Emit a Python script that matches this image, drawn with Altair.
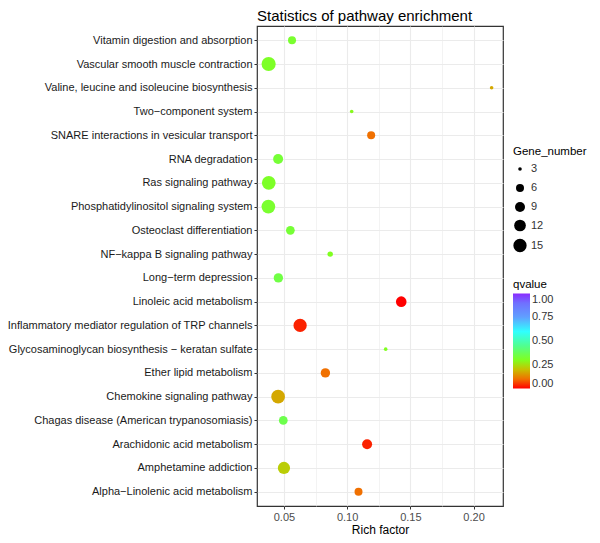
import altair as alt
import pandas as pd

pathways = [
    "Vitamin digestion and absorption",
    "Vascular smooth muscle contraction",
    "Valine, leucine and isoleucine biosynthesis",
    "Two\u2212component system",
    "SNARE interactions in vesicular transport",
    "RNA degradation",
    "Ras signaling pathway",
    "Phosphatidylinositol signaling system",
    "Osteoclast differentiation",
    "NF\u2212kappa B signaling pathway",
    "Long\u2212term depression",
    "Linoleic acid metabolism",
    "Inflammatory mediator regulation of TRP channels",
    "Glycosaminoglycan biosynthesis \u2212 keratan sulfate",
    "Ether lipid metabolism",
    "Chemokine signaling pathway",
    "Chagas disease (American trypanosomiasis)",
    "Arachidonic acid metabolism",
    "Amphetamine addiction",
    "Alpha\u2212Linolenic acid metabolism",
]
rich_factor = [0.0564, 0.0379, 0.2143, 0.1036, 0.1190, 0.0454, 0.0380, 0.0377,
               0.0551, 0.0866, 0.0456, 0.1428, 0.0628, 0.1305, 0.0828, 0.0454,
               0.0495, 0.1158, 0.0500, 0.1090]
gene_number = [6, 17, 3, 3, 6, 9, 16, 16, 7, 4, 8, 10, 15, 3, 8, 16, 7, 9, 13, 6]
qvalue = [0.32, 0.31, 0.17, 0.29, 0.10, 0.33, 0.31, 0.32, 0.33, 0.30, 0.35, 0.0,
          0.03, 0.30, 0.10, 0.17, 0.36, 0.03, 0.22, 0.10]

size_legend_values = [3, 6, 9, 12, 15]
q_legend_values = [0, 0.25, 0.5, 0.75, 1.0]
x_tick_values = [0.05, 0.075, 0.10, 0.125, 0.15, 0.175, 0.20]

df = pd.DataFrame({
    "Pathway": pathways,
    "Rich factor": rich_factor,
    "Gene_number": gene_number,
    "qvalue": qvalue,
})

FONT = "Liberation Sans"
MINOR = "round(datum.value*1000) % 50 != 0"

chart = (
    alt.Chart(df)
    .mark_circle(opacity=1)
    .encode(
        x=alt.X(
            "Rich factor:Q",
            scale=alt.Scale(domain=[0.0287, 0.2233], nice=False, zero=False),
            axis=alt.Axis(
                values=x_tick_values,
                labelExpr="round(datum.value*1000) % 50 == 0 ? format(datum.value, '.2f') : ''",
                tickOpacity={"condition": {"test": MINOR, "value": 0}, "value": 1},
                gridWidth={"condition": {"test": MINOR, "value": 0.6}, "value": 1.1},
                title="Rich factor",
                titleFontSize=12,
                titleFontWeight="normal",
                titleColor="black",
                titlePadding=2,
                labelFontSize=11,
                labelColor="#4d4d4d",
                labelPadding=2,
                tickSize=3,
                tickColor="#333333",
                domain=False,
                gridColor="#EBEBEB",
            ),
        ),
        y=alt.Y(
            "Pathway:N",
            sort=pathways,
            scale=alt.Scale(type="point", padding=0.6),
            axis=alt.Axis(
                title=None,
                labelFontSize=11,
                labelColor="#1a1a1a",
                labelPadding=2,
                tickSize=3,
                tickColor="#333333",
                domain=False,
                grid=True,
                gridColor="#EBEBEB",
                gridWidth=1.1,
                labelLimit=400,
            ),
        ),
        size=alt.Size(
            "Gene_number:Q",
            scale=alt.Scale(domain=[3, 6, 9, 12, 15, 17], range=[13, 64, 100, 137, 177, 201]),
            legend=alt.Legend(
                values=size_legend_values,
                orient="none",
                legendX=256,
                legendY=120,
                symbolFillColor="black",
                symbolStrokeWidth=0,
                titleFontSize=11.5,
                titleFontWeight="normal",
                titleColor="black",
                labelFontSize=11,
                labelColor="#333333",
                rowPadding=7,
                titlePadding=6,
            ),
        ),
        color=alt.Color(
            "qvalue:Q",
            scale=alt.Scale(
                domain=[0, 0.1, 0.2, 0.3, 0.45, 0.6, 0.75, 0.9, 1.0],
                range=["#FF0000", "#F07000", "#C8C000", "#80FF20", "#50FF90",
                       "#30FFFF", "#60A0FF", "#7070FF", "#8B2BFF"],
                interpolate="rgb",
            ),
            legend=alt.Legend(
                values=q_legend_values,
                format=".2f",
                orient="none",
                legendX=256,
                legendY=253,
                gradientLength=95,
                gradientThickness=17,
                gradientStrokeWidth=0,
                titleFontSize=11.5,
                titleFontWeight="normal",
                titleColor="black",
                labelFontSize=11,
                labelColor="#333333",
                titlePadding=3,
            ),
        ),
    )
    .properties(
        width=246,
        height=480,
        title=alt.TitleParams(
            "Statistics of pathway enrichment",
            anchor="start",
            frame="group",
            fontSize=15,
            fontWeight="normal",
            font=FONT,
            color="black",
            offset=2,
        ),
        autosize=alt.AutoSizeParams(type="none"),
        padding={"left": 249, "top": 18, "right": 89, "bottom": 29},
    )
    .configure(font=FONT)
    .configure_view(stroke="#333333", strokeWidth=1.2)
)

chart.save("out.html", embed_options={"renderer": "svg", "actions": False})
